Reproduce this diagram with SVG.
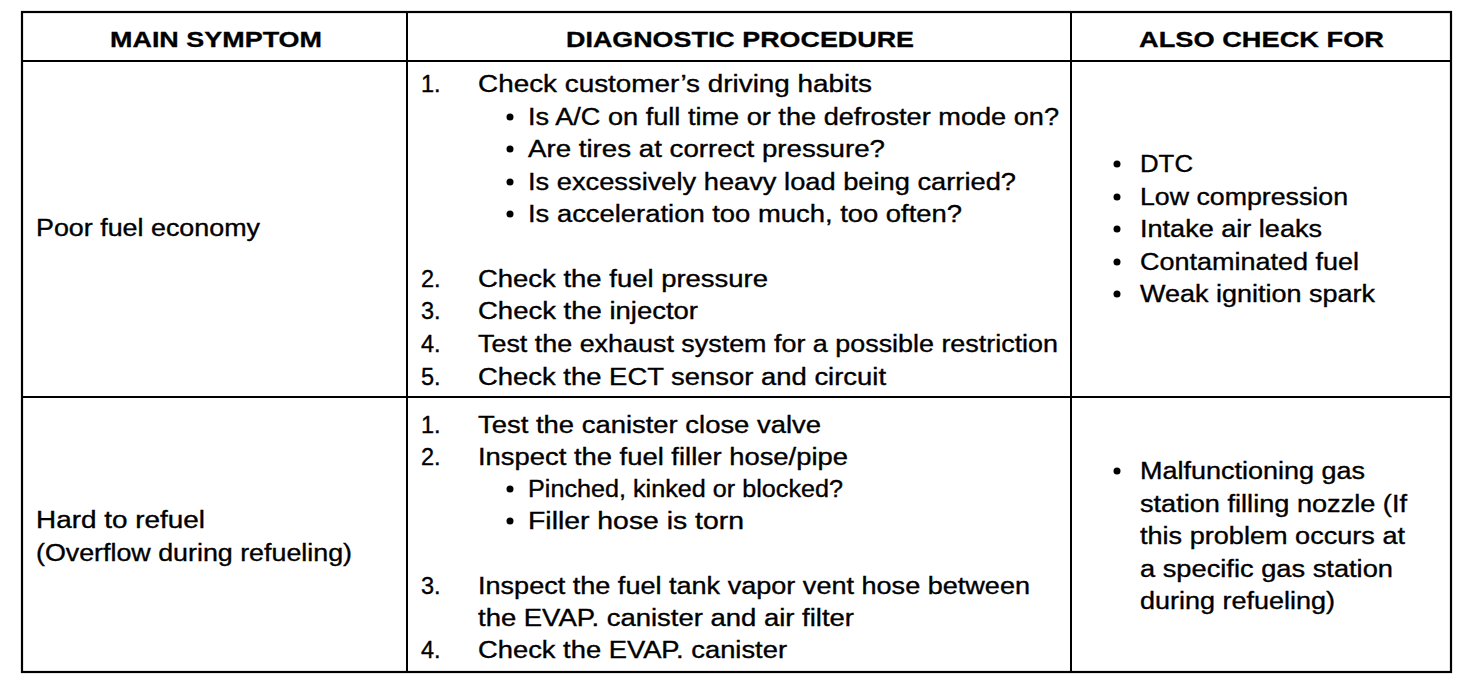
<svg xmlns="http://www.w3.org/2000/svg" width="1472" height="694" viewBox="0 0 1472 694">
<style>
.t{font-family:"Liberation Sans",Arial,Helvetica,sans-serif;font-size:23.5px;fill:#000;stroke:#000;stroke-width:0.35px}
.h{font-family:"Liberation Sans",Arial,Helvetica,sans-serif;font-size:22px;font-weight:bold;fill:#000;stroke:#000;stroke-width:0.3px}
.ln{stroke:#000;fill:none}
.b{fill:#000}
</style>
<rect width="1472" height="694" fill="#fff"/>
<g id="grid">
<rect class="ln" x="22" y="12" width="1429" height="660" stroke-width="2.2"/>
<line class="ln" x1="22" y1="61" x2="1451" y2="61" stroke-width="1.8"/>
<line class="ln" x1="22" y1="397" x2="1451" y2="397" stroke-width="1.8"/>
<line class="ln" x1="407" y1="12" x2="407" y2="672" stroke-width="2"/>
<line class="ln" x1="1071" y1="12" x2="1071" y2="672" stroke-width="2"/>
</g>
<g id="header">
<text class="h" x="110" y="47" textLength="212" lengthAdjust="spacingAndGlyphs">MAIN SYMPTOM</text>
<text class="h" x="566" y="47" textLength="348" lengthAdjust="spacingAndGlyphs">DIAGNOSTIC PROCEDURE</text>
<text class="h" x="1139" y="47" textLength="245" lengthAdjust="spacingAndGlyphs">ALSO CHECK FOR</text>
</g>
<g id="row1-symptom">
<text class="t" x="36" y="236" textLength="224" lengthAdjust="spacingAndGlyphs">Poor fuel economy</text>
</g>
<g id="row1-procedure">
<text class="t" x="421" y="92">1.</text>
<text class="t" x="478" y="92" textLength="394" lengthAdjust="spacingAndGlyphs">Check customer’s driving habits</text>
<circle class="b" cx="510" cy="117" r="3.5"/>
<text class="t" x="528" y="125" textLength="531" lengthAdjust="spacingAndGlyphs">Is A/C on full time or the defroster mode on?</text>
<circle class="b" cx="510" cy="149" r="3.5"/>
<text class="t" x="528" y="157" textLength="357" lengthAdjust="spacingAndGlyphs">Are tires at correct pressure?</text>
<circle class="b" cx="510" cy="182" r="3.5"/>
<text class="t" x="528" y="190" textLength="488" lengthAdjust="spacingAndGlyphs">Is excessively heavy load being carried?</text>
<circle class="b" cx="510" cy="214" r="3.5"/>
<text class="t" x="528" y="222" textLength="434" lengthAdjust="spacingAndGlyphs">Is acceleration too much, too often?</text>
<text class="t" x="421" y="287">2.</text>
<text class="t" x="478" y="287" textLength="290" lengthAdjust="spacingAndGlyphs">Check the fuel pressure</text>
<text class="t" x="421" y="319">3.</text>
<text class="t" x="478" y="319" textLength="220" lengthAdjust="spacingAndGlyphs">Check the injector</text>
<text class="t" x="421" y="352">4.</text>
<text class="t" x="478" y="352" textLength="580" lengthAdjust="spacingAndGlyphs">Test the exhaust system for a possible restriction</text>
<text class="t" x="421" y="385">5.</text>
<text class="t" x="478" y="385" textLength="408" lengthAdjust="spacingAndGlyphs">Check the ECT sensor and circuit</text>
</g>
<g id="row1-alsocheck">
<circle class="b" cx="1117" cy="164" r="3.5"/>
<text class="t" x="1140" y="172" textLength="53" lengthAdjust="spacingAndGlyphs">DTC</text>
<circle class="b" cx="1117" cy="197" r="3.5"/>
<text class="t" x="1140" y="205" textLength="208" lengthAdjust="spacingAndGlyphs">Low compression</text>
<circle class="b" cx="1117" cy="229" r="3.5"/>
<text class="t" x="1140" y="237" textLength="182" lengthAdjust="spacingAndGlyphs">Intake air leaks</text>
<circle class="b" cx="1117" cy="262" r="3.5"/>
<text class="t" x="1140" y="270" textLength="219" lengthAdjust="spacingAndGlyphs">Contaminated fuel</text>
<circle class="b" cx="1117" cy="294" r="3.5"/>
<text class="t" x="1140" y="302" textLength="235" lengthAdjust="spacingAndGlyphs">Weak ignition spark</text>
</g>
<g id="row2-symptom">
<text class="t" x="36" y="528" textLength="169" lengthAdjust="spacingAndGlyphs">Hard to refuel</text>
<text class="t" x="36" y="561" textLength="316" lengthAdjust="spacingAndGlyphs">(Overflow during refueling)</text>
</g>
<g id="row2-procedure">
<text class="t" x="421" y="433">1.</text>
<text class="t" x="478" y="433" textLength="343" lengthAdjust="spacingAndGlyphs">Test the canister close valve</text>
<text class="t" x="421" y="465">2.</text>
<text class="t" x="478" y="465" textLength="370" lengthAdjust="spacingAndGlyphs">Inspect the fuel filler hose/pipe</text>
<circle class="b" cx="510" cy="489" r="3.5"/>
<text class="t" x="528" y="497" textLength="315" lengthAdjust="spacingAndGlyphs">Pinched, kinked or blocked?</text>
<circle class="b" cx="510" cy="521" r="3.5"/>
<text class="t" x="528" y="529" textLength="216" lengthAdjust="spacingAndGlyphs">Filler hose is torn</text>
<text class="t" x="421" y="594">3.</text>
<text class="t" x="478" y="594" textLength="552" lengthAdjust="spacingAndGlyphs">Inspect the fuel tank vapor vent hose between</text>
<text class="t" x="478" y="626" textLength="376" lengthAdjust="spacingAndGlyphs">the EVAP. canister and air filter</text>
<text class="t" x="421" y="658">4.</text>
<text class="t" x="478" y="658" textLength="309" lengthAdjust="spacingAndGlyphs">Check the EVAP. canister</text>
</g>
<g id="row2-alsocheck">
<circle class="b" cx="1117" cy="471" r="3.5"/>
<text class="t" x="1140" y="479" textLength="225" lengthAdjust="spacingAndGlyphs">Malfunctioning gas</text>
<text class="t" x="1140" y="512" textLength="267" lengthAdjust="spacingAndGlyphs">station filling nozzle (If</text>
<text class="t" x="1140" y="544" textLength="265" lengthAdjust="spacingAndGlyphs">this problem occurs at</text>
<text class="t" x="1140" y="577" textLength="253" lengthAdjust="spacingAndGlyphs">a specific gas station</text>
<text class="t" x="1140" y="609" textLength="195" lengthAdjust="spacingAndGlyphs">during refueling)</text>
</g>
</svg>
